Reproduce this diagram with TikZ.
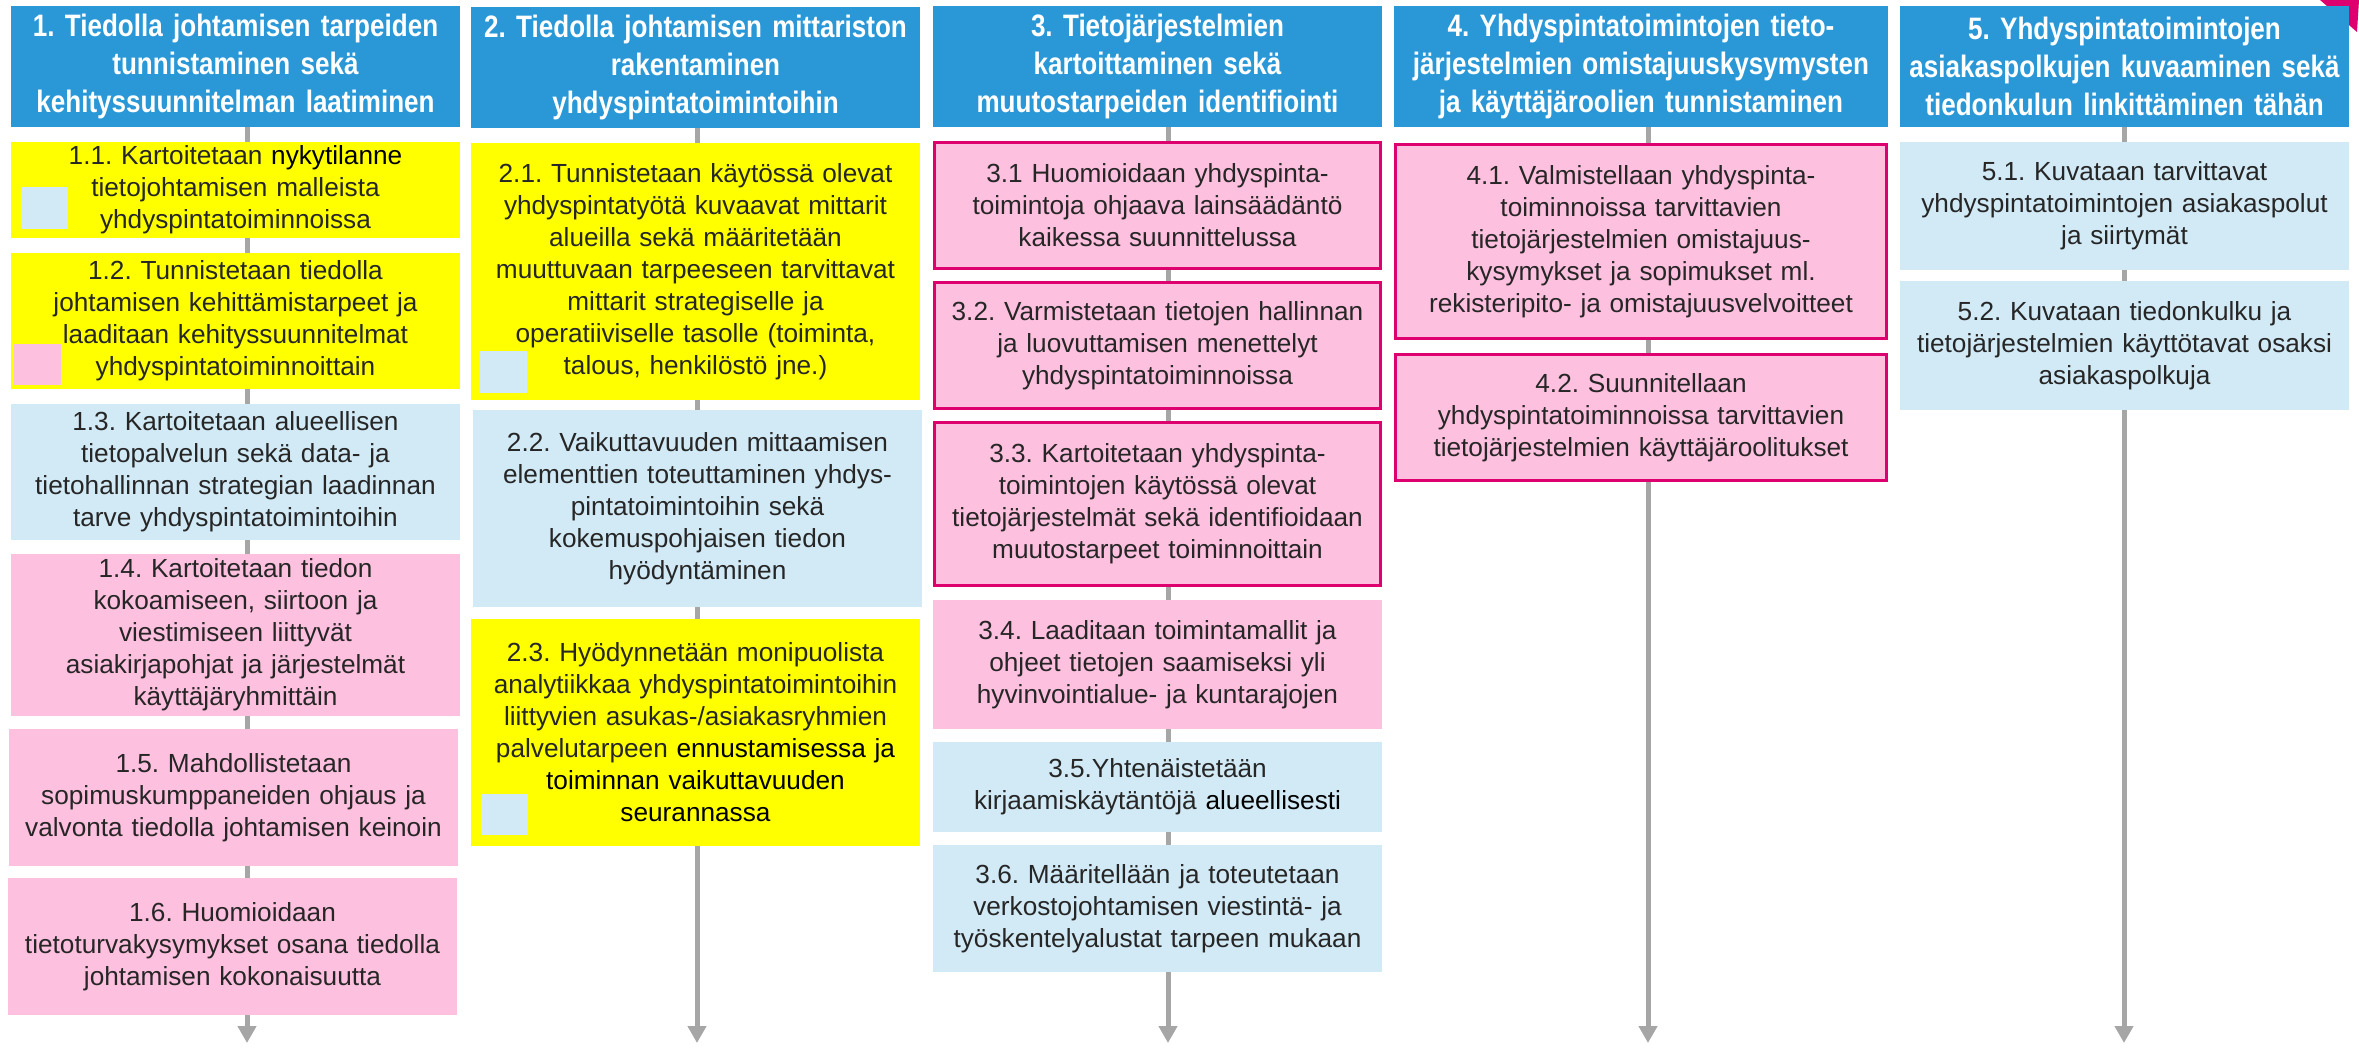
\documentclass[tikz,border=0pt]{standalone}
\usepackage{fontspec}
\setmainfont{Liberation Sans}
\newfontfamily\hdrfam{Liberation Sans}[FakeStretch=0.84]
\usetikzlibrary{arrows.meta,backgrounds}
\definecolor{hdrblue}{HTML}{2A98D6}
\definecolor{ylw}{HTML}{FFFF00}
\definecolor{lblue}{HTML}{D2EAF6}
\definecolor{pinkf}{HTML}{FEC0DF}
\definecolor{mag}{HTML}{DE006E}
\definecolor{txt}{HTML}{262626}
\definecolor{conngray}{HTML}{A6A6A6}
\newcommand\hdrsz{\hdrfam\bfseries\fontsize{31}{38.3}\selectfont}
\newcommand\bodysz{\fontsize{26.2}{32}\selectfont}
\newcommand\blk[1]{\textcolor{black}{#1}}
\frenchspacing
\tikzset{
  hdr/.style={fill=hdrblue, text=white, font=\hdrsz, align=center, inner sep=0pt, outer sep=0pt, anchor=north west},
  bbox/.style={align=center, inner sep=0pt, outer sep=0pt, anchor=north west, font=\bodysz, text=txt},
  ybox/.style={bbox, fill=ylw},
  lbox/.style={bbox, fill=lblue},
  pbox/.style={bbox, fill=pinkf},
  mbox/.style={bbox, fill=pinkf, draw=mag, line width=3pt},
  sq/.style={inner sep=0pt, outer sep=0pt, anchor=north west, minimum width=47, minimum height=42},
  conn/.style={draw=conngray, line width=5pt, -{Triangle[width=18pt,length=17pt]}},
}
\begin{document}
\begin{tikzpicture}[x=1pt,y=-1pt]
\useasboundingbox (0,0) rectangle (2359,1053);
\fill[mag] (2320,0) -- (2359,0) -- (2357,32) -- cycle;

% headers
\node[hdr, minimum width=449, minimum height=121, text width=445pt] (h1) at (11,6)
  {1. Tiedolla johtamisen tarpeiden\\tunnistaminen sekä\\kehityssuunnitelman laatiminen};
\node[hdr, minimum width=449, minimum height=121, text width=445pt] (h2) at (471,7)
  {2. Tiedolla johtamisen mittariston\\rakentaminen\\yhdyspintatoimintoihin};
\node[hdr, minimum width=449, minimum height=121, text width=445pt] (h3) at (933,6)
  {3. Tietojärjestelmien\\kartoittaminen sekä\\muutostarpeiden identifiointi};
\node[hdr, minimum width=494, minimum height=121, text width=490pt] (h4) at (1394,6)
  {4. Yhdyspintatoimintojen tieto-\\järjestelmien omistajuuskysymysten\\ja käyttäjäroolien tunnistaminen};
\node[hdr, minimum width=449, minimum height=121, text width=445pt] (h5) at (1900,6)
  {5. Yhdyspintatoimintojen\\asiakaspolkujen kuvaaminen sekä\\tiedonkulun linkittäminen tähän};

% column 1
\node[ybox, minimum width=449, minimum height=96, text width=440pt] (b11) at (11,142)
  {1.1. Kartoitetaan \blk{nykytilanne}\\tietojohtamisen malleista\\yhdyspintatoiminnoissa};
\node[ybox, minimum width=449, minimum height=136, text width=440pt] (b12) at (11,253)
  {1.2. Tunnistetaan tiedolla\\johtamisen kehittämistarpeet ja\\laaditaan kehityssuunnitelmat\\yhdyspintatoiminnoittain};
\node[lbox, minimum width=449, minimum height=136, text width=440pt] (b13) at (11,404)
  {1.3. Kartoitetaan alueellisen\\tietopalvelun sekä data- ja\\tietohallinnan strategian laadinnan\\tarve yhdyspintatoimintoihin};
\node[pbox, minimum width=449, minimum height=162, text width=440pt] (b14) at (11,554)
  {1.4. Kartoitetaan tiedon\\kokoamiseen, siirtoon ja\\viestimiseen liittyvät\\asiakirjapohjat ja järjestelmät\\käyttäjäryhmittäin};
\node[pbox, minimum width=449, minimum height=137, text width=440pt] (b15) at (9,729)
  {1.5. Mahdollistetaan\\sopimuskumppaneiden ohjaus ja\\valvonta tiedolla johtamisen keinoin};
\node[pbox, minimum width=449, minimum height=137, text width=440pt] (b16) at (8,878)
  {1.6. Huomioidaan\\tietoturvakysymykset osana tiedolla\\johtamisen kokonaisuutta};

% column 2
\node[ybox, minimum width=449, minimum height=257, text width=440pt] (b21) at (471,143)
  {2.1. Tunnistetaan käytössä olevat\\yhdyspintatyötä kuvaavat mittarit\\alueilla sekä määritetään\\muuttuvaan tarpeeseen tarvittavat\\mittarit strategiselle ja\\operatiiviselle tasolle (toiminta,\\talous, henkilöstö jne.)};
\node[lbox, minimum width=449, minimum height=197, text width=440pt] (b22) at (473,410)
  {2.2. Vaikuttavuuden mittaamisen\\elementtien toteuttaminen yhdys-\\pintatoimintoihin sekä\\kokemuspohjaisen tiedon\\hyödyntäminen};
\node[ybox, minimum width=449, minimum height=227, text width=440pt] (b23) at (471,619)
  {2.3. Hyödynnetään monipuolista\\analytiikkaa yhdyspintatoimintoihin\\liittyvien asukas-/asiakasryhmien\\palvelutarpeen \blk{ennustamisessa ja}\\\blk{toiminnan vaikuttavuuden}\\\blk{seurannassa}};

% column 3
\node[mbox, minimum width=446, minimum height=126, text width=436pt] (b31) at (934.5,142.5)
  {3.1 Huomioidaan yhdyspinta-\\toimintoja ohjaava lainsäädäntö\\kaikessa suunnittelussa};
\node[mbox, minimum width=446, minimum height=126, text width=436pt] (b32) at (934.5,282.5)
  {3.2. Varmistetaan tietojen hallinnan\\ja luovuttamisen menettelyt\\yhdyspintatoiminnoissa};
\node[mbox, minimum width=446, minimum height=163, text width=436pt] (b33) at (934.5,422.5)
  {3.3. Kartoitetaan yhdyspinta-\\toimintojen käytössä olevat\\tietojärjestelmät sekä identifioidaan\\muutostarpeet toiminnoittain};
\node[pbox, minimum width=449, minimum height=129, text width=440pt] (b34) at (933,600)
  {3.4. Laaditaan toimintamallit ja\\ohjeet tietojen saamiseksi yli\\hyvinvointialue- ja kuntarajojen};
\node[lbox, minimum width=449, minimum height=90, text width=440pt] (b35) at (933,742)
  {3.5.Yhtenäistetään\\kirjaamiskäytäntöjä \blk{alueellisesti}};
\node[lbox, minimum width=449, minimum height=127, text width=440pt] (b36) at (933,845)
  {3.6. Määritellään ja toteutetaan\\verkostojohtamisen viestintä- ja\\työskentelyalustat tarpeen mukaan};

% column 4
\node[mbox, minimum width=491, minimum height=194, text width=480pt] (b41) at (1395.5,144.5)
  {4.1. Valmistellaan yhdyspinta-\\toiminnoissa tarvittavien\\tietojärjestelmien omistajuus-\\kysymykset ja sopimukset ml.\\rekisteripito- ja omistajuusvelvoitteet};
\node[mbox, minimum width=491, minimum height=126, text width=480pt] (b42) at (1395.5,354.5)
  {4.2. Suunnitellaan\\yhdyspintatoiminnoissa tarvittavien\\tietojärjestelmien käyttäjäroolitukset};

% column 5
\node[lbox, minimum width=449, minimum height=128, text width=440pt] (b51) at (1900,142)
  {5.1. Kuvataan tarvittavat\\yhdyspintatoimintojen asiakaspolut\\ja siirtymät};
\node[lbox, minimum width=449, minimum height=129, text width=440pt] (b52) at (1900,281)
  {5.2. Kuvataan tiedonkulku ja\\tietojärjestelmien käyttötavat osaksi\\asiakaspolkuja};

% small squares
\node[sq, fill=lblue] (s1) at (21,187) {};
\node[sq, fill=pinkf, minimum height=41] (s2) at (14,344) {};
\node[sq, fill=lblue] (s3) at (480,351) {};
\node[sq, fill=lblue, minimum height=41] (s4) at (481,794) {};

% connector end points
\coordinate (e1) at (247,1043);
\coordinate (e2) at (697,1043);
\coordinate (e3) at (1168,1043);
\coordinate (e4) at (1648,1043);
\coordinate (e5) at (2124,1043);

\begin{scope}[on background layer]
  \draw[conn] (h1.south -| e1) -- (e1);
  \draw[conn] (h2.south -| e2) -- (e2);
  \draw[conn] (h3.south -| e3) -- (e3);
  \draw[conn] (h4.south -| e4) -- (e4);
  \draw[conn] (h5.south -| e5) -- (e5);
\end{scope}
\end{tikzpicture}
\end{document}
